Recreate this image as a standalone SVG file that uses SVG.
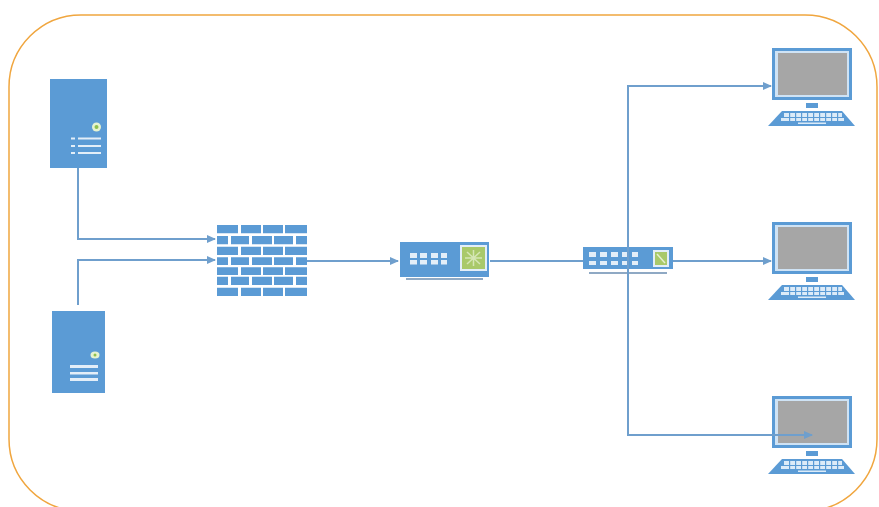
<svg xmlns="http://www.w3.org/2000/svg" xmlns:xlink="http://www.w3.org/1999/xlink" width="879" height="507" viewBox="0 0 879 507">
<style>
.b{fill:#5b9bd5}
.wl{fill:#e3eef8}
.g{fill:#a9c96a}
.u{fill:#8fa9c4}
.c{fill:none;stroke:#6f9fcd;stroke-width:2}
</style>
<defs>
<marker id="a" markerUnits="userSpaceOnUse" markerWidth="9" markerHeight="8" refX="8" refY="4" orient="auto"><path d="M0 0L9 4L0 8Z" fill="#6f9fcd"/></marker>
<g id="pc">
<path class="b" d="M0 0H80V52H0Z"/>
<path fill="#cfe3f5" d="M3 3H77V49H3Z"/>
<path fill="#a6a6a6" d="M6 5H75V47H6Z"/>
<path class="b" d="M34 55H46V60H34Z"/>
<path class="b" d="M10 63H70L83 78H-4Z"/>
<path fill="#dcebf8" d="M12 65H70V69H12ZM9 70H72V73H9ZM26 74.500H54V76H26Z"/>
<path class="b" d="M17 65h1.200v8h-1.200ZM23 65h1.200v8h-1.200ZM29 65h1.200v8h-1.200ZM35 65h1.200v8h-1.200ZM41 65h1.200v8h-1.200ZM47 65h1.200v8h-1.200ZM53 65h1.200v8h-1.200ZM59 65h1.200v8h-1.200ZM65 65h1.200v8h-1.200Z"/>
</g>
</defs>
<rect id="boundary" x="9" y="15" width="868" height="496" rx="72" ry="72" fill="#fff" stroke="#f0a63f" stroke-width="1.500"/>
<g id="server1">
<rect class="b" x="50" y="79" width="57" height="89"/>
<circle cx="96.500" cy="127" r="4.500" fill="#e6f3d0"/><circle cx="96.500" cy="127" r="2" fill="#8fc04f"/>
<path class="wl" d="M71 137.500h4v2h-4ZM78 137.500h23v2h-23ZM71 145h4v2h-4ZM78 145h23v2h-23ZM71 152h4v2h-4ZM78 152h23v2h-23Z"/>
</g>
<g id="server2">
<rect class="b" x="52" y="311" width="53" height="82"/>
<ellipse cx="95" cy="355" rx="4.500" ry="3.500" fill="#e6f3d0"/><circle cx="95" cy="355" r="1.500" fill="#8fc04f"/>
<path class="wl" d="M70 365h28v3h-28ZM70 372h28v2.500h-28ZM70 378h28v3h-28Z"/>
</g>
<g id="firewall">
<path class="b" d="M217 225h21v8.300h-21ZM241 225h20v8.300h-20ZM263 225h20v8.300h-20ZM285 225h22v8.300h-22Z"/>
<path class="b" d="M217 236h11v8.300h-11ZM231 236h18v8.300h-18ZM252 236h20v8.300h-20ZM274 236h19v8.300h-19ZM296 236h11v8.300h-11Z"/>
<path class="b" d="M217 246.700h21v8.300h-21ZM241 246.700h20v8.300h-20ZM263 246.700h20v8.300h-20ZM285 246.700h22v8.300h-22Z"/>
<path class="b" d="M217 257.300h11v7.700h-11ZM231 257.300h18v7.700h-18ZM252 257.300h20v7.700h-20ZM274 257.300h19v7.700h-19ZM296 257.300h11v7.700h-11Z"/>
<path class="b" d="M217 267.300h21v7.700h-21ZM241 267.300h20v7.700h-20ZM263 267.300h20v7.700h-20ZM285 267.300h22v7.700h-22Z"/>
<path class="b" d="M217 276.700h11v8.300h-11ZM231 276.700h18v8.300h-18ZM252 276.700h20v8.300h-20ZM274 276.700h19v8.300h-19ZM296 276.700h11v8.300h-11Z"/>
<path class="b" d="M217 287.700h21v8.300h-21ZM241 287.700h20v8.300h-20ZM263 287.700h20v8.300h-20ZM285 287.700h22v8.300h-22Z"/>
</g>
<g id="switch1">
<rect class="b" x="400" y="242" width="89" height="35"/>
<rect class="u" x="406" y="278" width="77" height="2"/>
<path class="wl" d="M410 253h7v5h-7ZM410 260h7v4.500h-7ZM420 253h7v5h-7ZM420 260h7v4.500h-7ZM431 253h7v5h-7ZM431 260h7v4.500h-7ZM441 253h6v5h-6ZM441 260h6v4.500h-6Z"/>
<rect class="wl" x="460" y="245" width="27" height="26"/>
<rect class="g" x="462" y="247" width="23" height="22"/>
<path d="M473.500 250v16M465 258h17M467 252l13 12M480 252l-13 12" stroke="#d5e6b5" stroke-width="1.500" fill="none"/>
</g>
<g id="switch2">
<rect class="b" x="583" y="247" width="90" height="22"/>
<rect class="u" x="589" y="272" width="78" height="2"/>
<path class="wl" d="M589 252h7v5h-7ZM589 261h7v4h-7ZM600 252h7v5h-7ZM600 261h7v4h-7ZM611 252h7v5h-7ZM611 261h7v4h-7ZM622 252h7v5h-7ZM622 261h7v4h-7ZM632 252h6v5h-6ZM632 261h6v4h-6Z"/>
<rect class="wl" x="653" y="250" width="16" height="17"/>
<rect class="g" x="655" y="252" width="12" height="13"/>
<path d="M657 254l8 9" stroke="#e6f0d0" stroke-width="1.500" fill="none"/>
</g>
<g id="pc1"><use xlink:href="#pc" href="#pc" x="772" y="48"/></g>
<g id="pc2"><use xlink:href="#pc" href="#pc" x="772" y="222"/></g>
<g id="pc3"><use xlink:href="#pc" href="#pc" x="772" y="396"/></g>
<g id="connectors">
<path class="c" marker-end="url(#a)" d="M78 168V239H215"/>
<path class="c" marker-end="url(#a)" d="M78 305V260H215"/>
<path class="c" marker-end="url(#a)" d="M307 261H398"/>
<path class="c" d="M490 261H583"/>
<path class="c" marker-end="url(#a)" d="M673 261H771"/>
<path class="c" marker-end="url(#a)" d="M628 261V86H771"/>
<path class="c" marker-end="url(#a)" d="M628 261V435H812"/>
</g>
</svg>
